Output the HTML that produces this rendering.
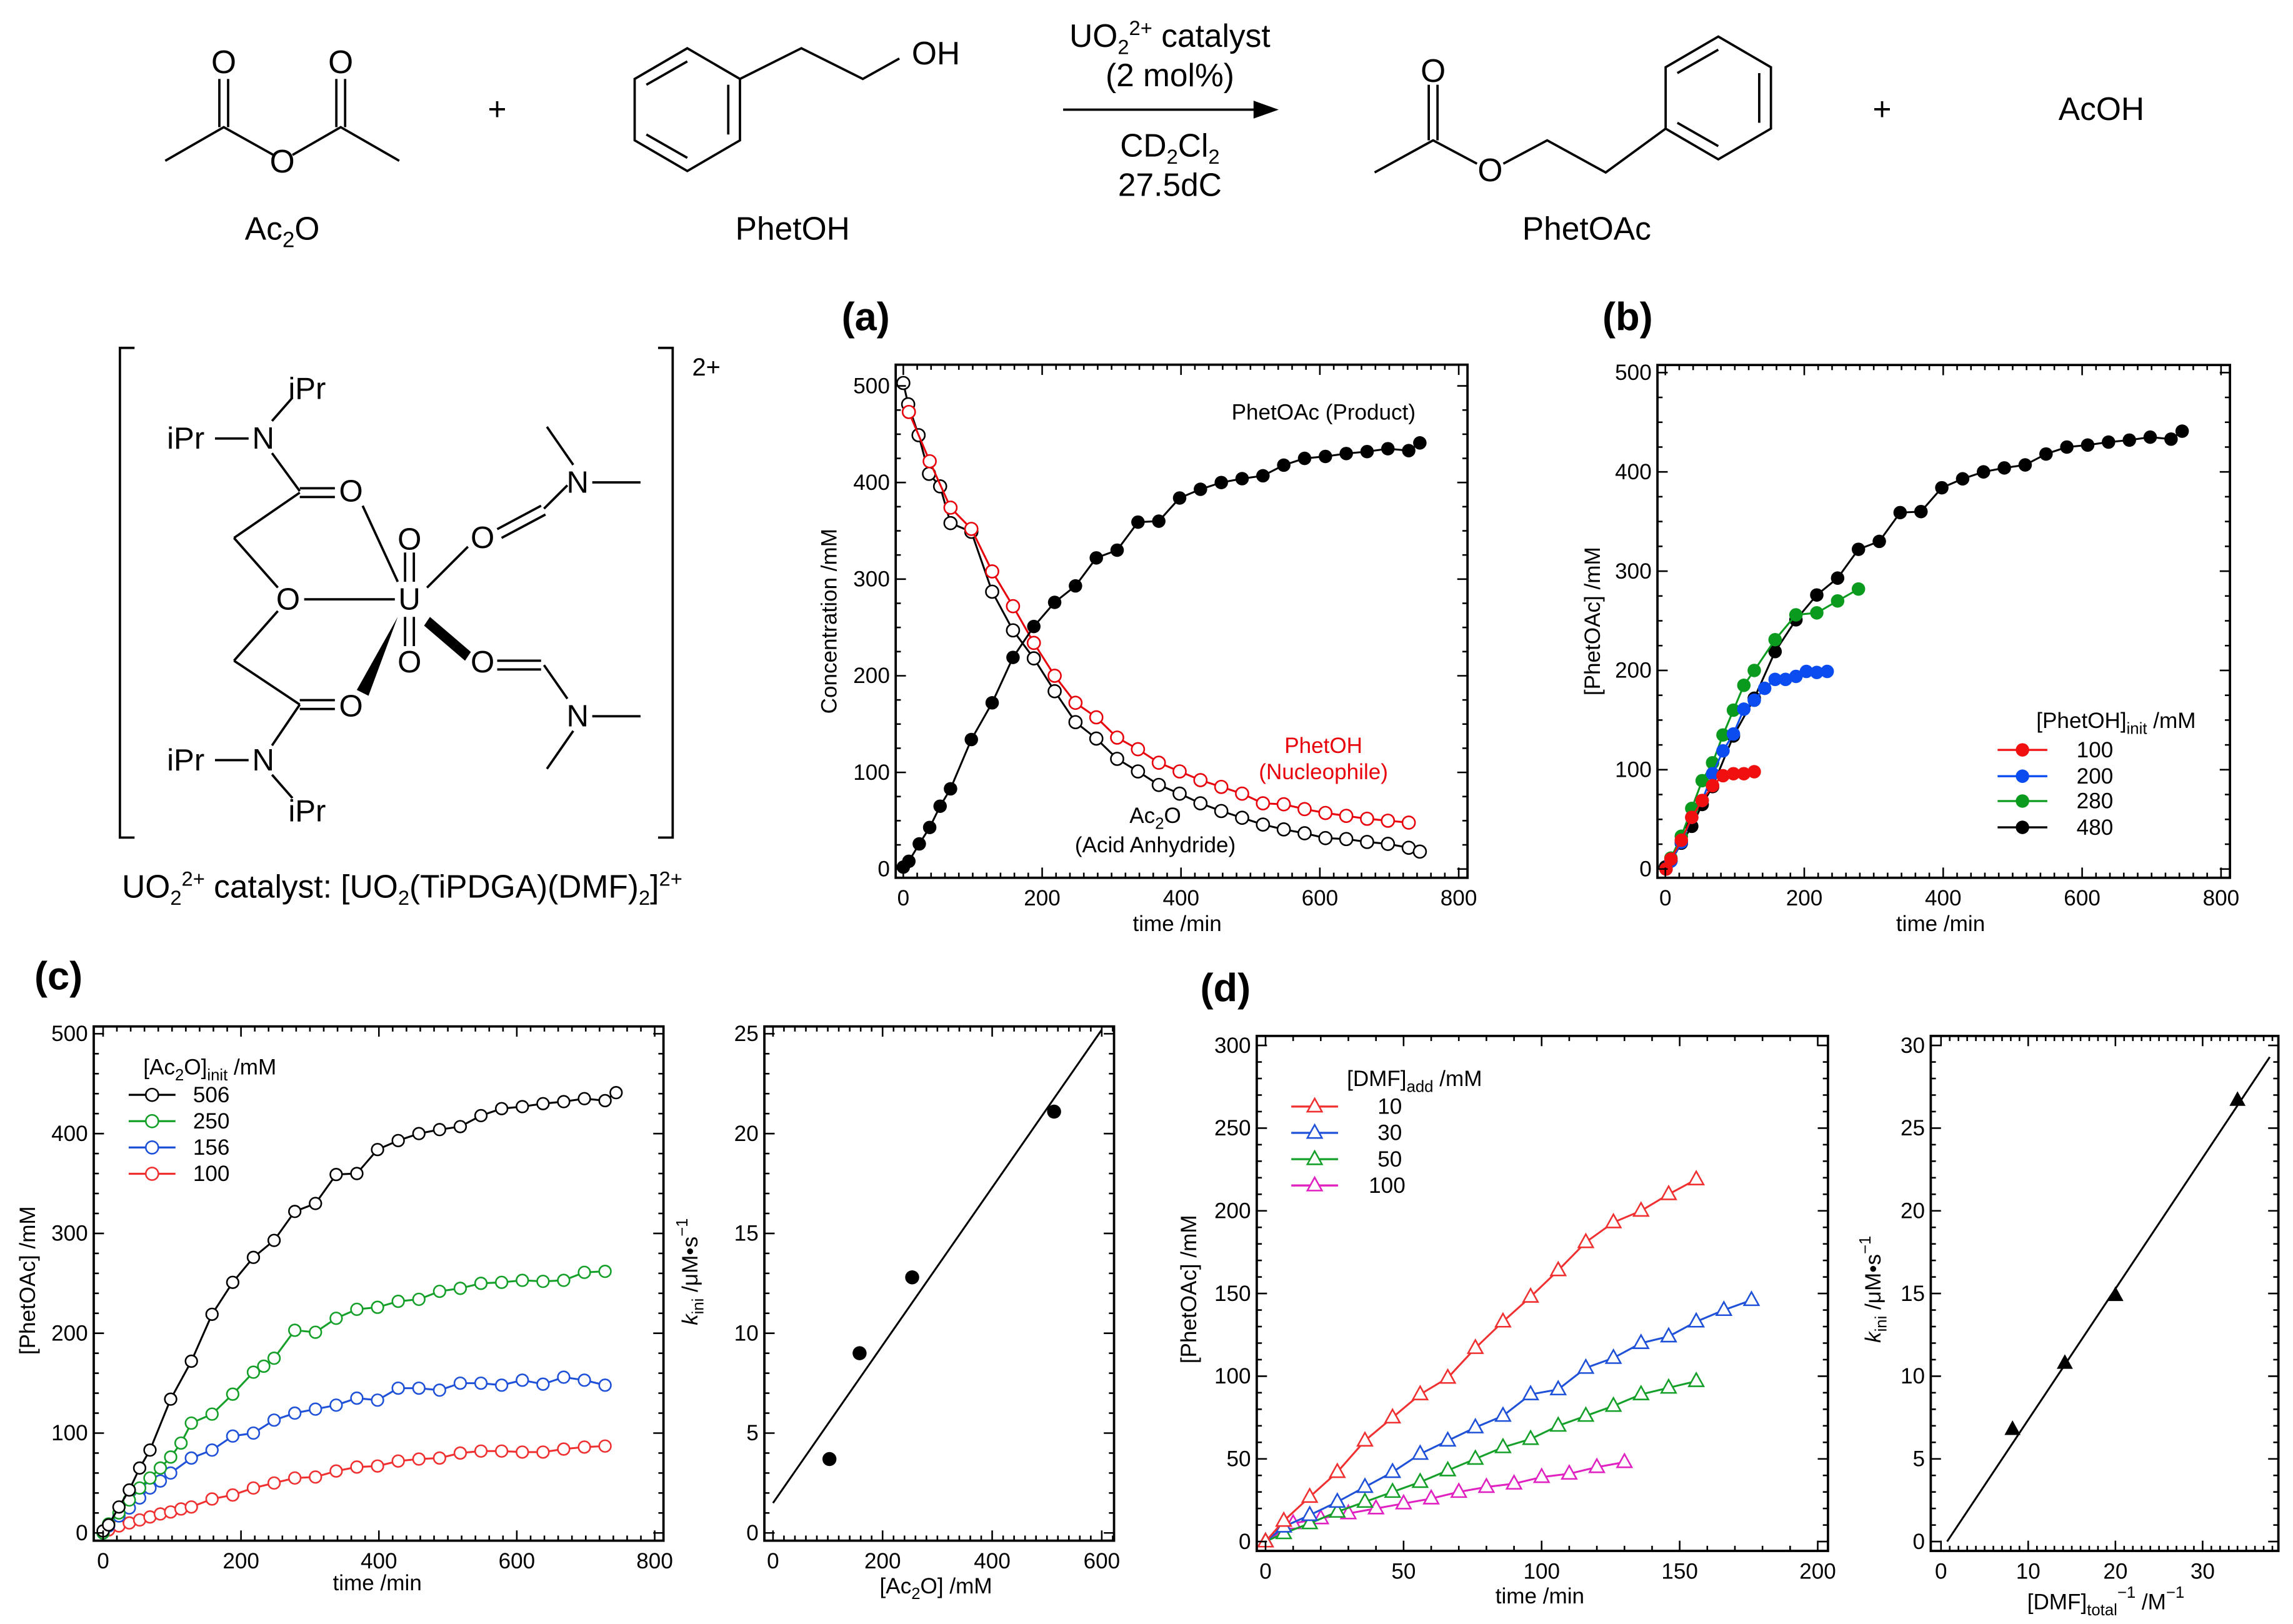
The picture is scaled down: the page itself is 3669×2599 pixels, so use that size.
<!DOCTYPE html>
<html><head><meta charset="utf-8"><title>Uranyl catalysed acetylation kinetics</title>
<style>
html,body{margin:0;padding:0;background:#fff;}
svg{display:block;font-family:"Liberation Sans",Arial,sans-serif;}
</style></head>
<body>
<svg id="fig" xmlns="http://www.w3.org/2000/svg" width="3669" height="2599" viewBox="0 0 1568 1111" preserveAspectRatio="none">
<rect x="0" y="0" width="1568" height="1111" fill="#fff"/>
<!-- Reaction scheme -->
<g stroke="#000" stroke-width="1.6" fill="none">
  <polyline points="113,110 153,87 187,106"/>
  <polyline points="200,106 233,87 273,110"/>
  <line x1="150" y1="87" x2="150" y2="54"/><line x1="156" y1="87" x2="156" y2="54"/>
  <line x1="230" y1="87" x2="230" y2="54"/><line x1="236" y1="87" x2="236" y2="54"/>
  <polygon points="470,33 506,54 506,96 470,117 434,96 434,54"/>
  <line x1="442" y1="58" x2="470" y2="42"/><line x1="498" y1="92" x2="498" y2="58"/><line x1="442" y1="92" x2="470" y2="108"/>
  <polyline points="506,54 548,33 590,54 615,40"/>
  <line x1="727" y1="75" x2="862" y2="75"/>
  <polygon points="872,75 858,70 858,80" fill="#000"/>
  <polyline points="940,118 980,96 1010,112"/>
  <line x1="977" y1="96" x2="977" y2="58"/><line x1="983" y1="96" x2="983" y2="58"/>
  <polyline points="1028,112 1058,96 1098,118 1139,88"/>
  <polygon points="1175,25 1211,46 1211,88 1175,109 1139,88 1139,46"/>
  <line x1="1147" y1="50" x2="1175" y2="34"/><line x1="1203" y1="84" x2="1203" y2="50"/><line x1="1147" y1="84" x2="1175" y2="100"/>
</g>
<g font-size="22" fill="#000">
  <text x="153" y="50" text-anchor="middle">O</text>
  <text x="233" y="50" text-anchor="middle">O</text>
  <text x="193" y="118" text-anchor="middle">O</text>
  <text x="193" y="164" text-anchor="middle">Ac<tspan font-size="15" dy="5">2</tspan><tspan dy="-5">O</tspan></text>
  <text x="340" y="82" text-anchor="middle">+</text>
  <text x="640" y="44" text-anchor="middle">OH</text>
  <text x="542" y="164" text-anchor="middle">PhetOH</text>
  <text x="800" y="32" text-anchor="middle">UO<tspan font-size="14" dy="5">2</tspan><tspan font-size="14" dy="-13">2+</tspan><tspan dy="8"> catalyst</tspan></text>
  <text x="800" y="59" text-anchor="middle">(2 mol%)</text>
  <text x="800" y="107" text-anchor="middle">CD<tspan font-size="14" dy="5">2</tspan><tspan dy="-5">Cl</tspan><tspan font-size="14" dy="5">2</tspan></text>
  <text x="800" y="134" text-anchor="middle">27.5dC</text>
  <text x="980" y="56" text-anchor="middle">O</text>
  <text x="1019" y="124" text-anchor="middle">O</text>
  <text x="1085" y="164" text-anchor="middle">PhetOAc</text>
  <text x="1287" y="82" text-anchor="middle">+</text>
  <text x="1437" y="82" text-anchor="middle">AcOH</text>
</g>
<!-- Catalyst structure -->
<g stroke="#000" stroke-width="1.6" fill="none">
  <polyline points="92,238 82,238 82,573 92,573"/>
  <polyline points="450,238 460,238 460,573 450,573"/>
  <line x1="147" y1="300" x2="170" y2="300"/>
  <line x1="186" y1="288" x2="200" y2="272"/>
  <line x1="186" y1="310" x2="205" y2="336"/>
  <line x1="205" y1="334" x2="229" y2="334"/><line x1="205" y1="340" x2="229" y2="340"/>
  <line x1="205" y1="337" x2="160" y2="368"/>
  <line x1="160" y1="368" x2="190" y2="402"/>
  <line x1="208" y1="410" x2="270" y2="410"/>
  <line x1="248" y1="346" x2="272" y2="398"/>
  <line x1="190" y1="418" x2="160" y2="452"/>
  <line x1="160" y1="452" x2="205" y2="482"/>
  <line x1="205" y1="479" x2="229" y2="479"/><line x1="205" y1="485" x2="229" y2="485"/>
  <line x1="205" y1="482" x2="186" y2="510"/>
  <line x1="147" y1="520" x2="170" y2="520"/>
  <line x1="186" y1="530" x2="200" y2="546"/>
  <line x1="277" y1="378" x2="277" y2="398"/><line x1="283" y1="378" x2="283" y2="398"/>
  <line x1="277" y1="422" x2="277" y2="442"/><line x1="283" y1="422" x2="283" y2="442"/>
  <line x1="292" y1="402" x2="320" y2="374"/>
  <line x1="340" y1="362" x2="370" y2="346"/><line x1="343" y1="368" x2="373" y2="352"/>
  <line x1="372" y1="348" x2="388" y2="332"/>
  <line x1="392" y1="318" x2="374" y2="292"/><line x1="405" y1="330" x2="438" y2="330"/>
  <line x1="340" y1="452" x2="370" y2="452"/><line x1="340" y1="458" x2="370" y2="458"/>
  <line x1="372" y1="455" x2="388" y2="478"/>
  <line x1="392" y1="500" x2="374" y2="526"/><line x1="405" y1="490" x2="438" y2="490"/>
</g>
<polygon points="294,422 322,446 318,452 290,428" fill="#000"/>
<polygon points="272,422 244,472 252,476" fill="#000"/>
<g font-size="21" fill="#000">
  <text x="210" y="273" text-anchor="middle">iPr</text>
  <text x="127" y="307" text-anchor="middle">iPr</text>
  <text x="180" y="307" text-anchor="middle">N</text>
  <text x="240" y="343" text-anchor="middle">O</text>
  <text x="197" y="417" text-anchor="middle">O</text>
  <text x="280" y="376" text-anchor="middle">O</text>
  <text x="280" y="417" text-anchor="middle">U</text>
  <text x="280" y="460" text-anchor="middle">O</text>
  <text x="330" y="375" text-anchor="middle">O</text>
  <text x="395" y="337" text-anchor="middle">N</text>
  <text x="330" y="460" text-anchor="middle">O</text>
  <text x="395" y="497" text-anchor="middle">N</text>
  <text x="240" y="490" text-anchor="middle">O</text>
  <text x="127" y="527" text-anchor="middle">iPr</text>
  <text x="180" y="527" text-anchor="middle">N</text>
  <text x="210" y="562" text-anchor="middle">iPr</text>
  <text x="483" y="257" text-anchor="middle" font-size="17">2+</text>
  <text x="275" y="614" text-anchor="middle" font-size="22">UO<tspan font-size="14" dy="5">2</tspan><tspan font-size="14" dy="-13">2+</tspan><tspan dy="8"> catalyst: [UO</tspan><tspan font-size="14" dy="5">2</tspan><tspan dy="-5">(TiPDGA)(DMF)</tspan><tspan font-size="14" dy="5">2</tspan><tspan dy="-5">]</tspan><tspan font-size="14" dy="-8">2+</tspan></text>
</g>
<g font-size="27" font-weight="bold" fill="#000">
  <text x="592" y="226" text-anchor="middle">(a)</text>
  <text x="1113" y="226" text-anchor="middle">(b)</text>
  <text x="40" y="677" text-anchor="middle">(c)</text>
  <text x="838" y="685" text-anchor="middle">(d)</text>
</g>
<g id="plots"></g>
</svg>
<script>
// ---- Data ----
const prodTime = [0,8,23,38,53,68,98,128,158,188,218,248,278,308,338,368,398,428,458,488,518,548,578,608,638,668,698,728,744];
const prodConc = [2,8,26,43,65,83,134,172,219,251,276,293,322,330,359,360,384,393,400,404,407,418,425,427,430,432,435,433,441];
const ac2oTime = [0,7,22,37,53,68,98,128,158,188,218,248,278,308,338,368,398,428,458,488,518,548,578,608,638,668,698,728,744];
const ac2oConc = [503,481,449,409,396,358,349,287,247,218,184,152,135,114,101,87,78,68,60,53,46,41,37,32,31,28,26,22,18];
const phetohTime = [8,38,68,98,128,158,188,218,248,278,308,338,368,398,428,458,488,518,548,578,608,638,668,698,728];
const phetohConc = [473,422,374,352,308,272,234,200,172,157,136,124,110,101,92,85,78,68,67,62,58,55,52,50,48];

const b100Time = [1,8,23,38,53,68,83,98,113,128];
const b100Conc = [0,10,29,52,69,84,94,96,96,98];
const b200Time = [1,8,23,38,53,68,83,98,113,128,143,158,173,188,203,218,233];
const b200Conc = [0,8,27,52,69,96,119,136,161,170,182,191,191,194,199,198,199];
const b280Time = [1,8,23,38,53,68,83,98,113,128,158,188,218,248,278];
const b280Conc = [0,11,33,61,89,107,135,160,185,200,231,256,258,270,282];

const c250Time = [0,8,23,38,53,68,83,98,113,128,158,188,218,233,248,278,308,338,368,398,428,458,488,518,548,578,608,638,668,698,728];
const c250Conc = [0,9,20,33,45,55,65,76,90,110,119,139,161,167,175,203,201,215,224,226,232,234,242,245,250,251,253,252,253,261,262];
const c156Time = [0,8,23,38,53,68,83,98,128,158,188,218,248,278,308,338,368,398,428,458,488,518,548,578,608,638,668,698,728];
const c156Conc = [0,7,17,25,35,45,52,60,75,83,97,100,113,120,124,128,135,133,145,145,143,150,150,148,153,149,156,153,148];
const c100Time = [8,23,38,53,68,83,98,113,128,158,188,218,248,278,308,338,368,398,428,458,488,518,548,578,608,638,668,698,728];
const c100Conc = [3,7,10,13,16,19,21,24,26,34,38,45,50,55,56,62,66,67,72,74,75,80,82,82,81,81,84,86,87];

const kAc2o = [103,158,254,513];
const kIniC = [3.7,9.0,12.8,21.1];
const fitCx = [0,600];
const fitCy = [1.5,25.2];

const d10Time = [0,6.6,16,26,36,46,56,66,76,86,96,106,116,126,136,146,156];
const d10Conc = [0,12.5,27,42,61,75,89,99,117,133,148,164,181,193,200,210,219];
const d30Time = [0,6.6,16,26,36,46,56,66,76,86,96,106,116,126,136,146,156,166,176];
const d30Conc = [0,9,16,24,33,42,53,61,69,76,89,92,105,111,120,124,133,140,146];
const d50Time = [0,6.6,16,26,36,46,56,66,76,86,96,106,116,126,136,146,156];
const d50Conc = [0,5,11,18,24,30,36,43,50,57,62,70,76,82,89,93,97];
const d100Time = [0,10,20,30,40,50,60,70,80,90,100,110,120,130];
const d100Conc = [0,11,14,17,20,23,26,30,33,35,39,41,45,48];

const invDmf = [8.2,14.2,20.0,34.0];
const kIniD = [6.8,10.8,14.9,26.7];
const fitDx = [0.7,37.7];
const fitDy = [0,29.3];

const tickA_X = [0,200,400,600,800];
const tickA_Y = [0,100,200,300,400,500];
const tickC2_X = [0,200,400,600];
const tickC2_Y = [0,5,10,15,20,25];
const tickD_X = [0,50,100,150,200];
const tickD_Y = [0,50,100,150,200,250,300];
const tickD2_X = [0,10,20,30];
const tickD2_Y = [0,5,10,15,20,25,30];

// ---- Helpers ----
const NS = 'http://www.w3.org/2000/svg';
const root = document.getElementById('plots');
function mk(tag, attrs, parent){
  const e = document.createElementNS(NS, tag);
  for (const k in attrs) e.setAttribute(k, attrs[k]);
  (parent || root).appendChild(e);
  return e;
}
function scale(v0, p0, v1, p1){ return v => p0 + (v - v0) * (p1 - p0) / (v1 - v0); }

function axes(g, P, xt, yt, xMinor, yMinor, xlabels, ylabels){
  const fr = mk('rect', {x:P.l, y:P.t, width:P.r-P.l, height:P.b-P.t, fill:'none', stroke:'#000', 'stroke-width':1.6}, g);
  
  
  const ML = 7, mL = 3.5;
  for (let v = P.xmin; v <= P.xmax + 1e-9; v += xMinor){
    const x = P.sx(v);
    if (x < P.l - 0.5 || x > P.r + 0.5) continue;
    const major = xt.some(t => Math.abs(t - v) < 1e-6);
    const L = major ? ML : mL;
    mk('line', {x1:x, y1:P.b, x2:x, y2:P.b-L, stroke:'#000','stroke-width':1.1}, g);
    mk('line', {x1:x, y1:P.t, x2:x, y2:P.t+L, stroke:'#000','stroke-width':1.1}, g);
  }
  for (let v = P.ymin; v <= P.ymax + 1e-9; v += yMinor){
    const y = P.sy(v);
    if (y < P.t - 0.5 || y > P.b + 0.5) continue;
    const major = yt.some(t => Math.abs(t - v) < 1e-6);
    const L = major ? ML : mL;
    mk('line', {x1:P.l, y1:y, x2:P.l+L, y2:y, stroke:'#000','stroke-width':1.1}, g);
    mk('line', {x1:P.r, y1:y, x2:P.r-L, y2:y, stroke:'#000','stroke-width':1.1}, g);
  }
  if (xlabels) xt.forEach(v => {
    const t = mk('text', {x:P.sx(v), y:P.b+19, 'text-anchor':'middle', 'font-size':15}, g);
    t.textContent = v;
    
    
  });
  if (ylabels) yt.forEach(v => {
    const t = mk('text', {x:P.l-4, y:P.sy(v)+5, 'text-anchor':'end', 'font-size':15}, g);
    t.textContent = v;
    
    
  });
}

function series(g, P, xs, ys, color, marker, name, r){
  const sg = mk('g', {}, g);
  
  
  const pts = xs.map((x,i) => P.sx(x) + ',' + P.sy(ys[i])).join(' ');
  mk('polyline', {points:pts, fill:'none', stroke:color, 'stroke-width':1.3}, sg);
  xs.forEach((x,i) => drawMarker(sg, P.sx(x), P.sy(ys[i]), color, marker, r));
}
function drawMarker(g, cx, cy, color, marker, r){
  let m;
  if (marker === 'filled') m = mk('circle', {cx, cy, r:r||4.6, fill:color}, g);
  else if (marker === 'open') m = mk('circle', {cx, cy, r:r||4.3, fill:'#fff', stroke:color, 'stroke-width':1.1}, g);
  else if (marker === 'tri') m = mk('polygon', {points:`${cx},${cy-5.5} ${cx+5},${cy+3.5} ${cx-5},${cy+3.5}`, fill:'#fff', stroke:color, 'stroke-width':1.1}, g);
  else if (marker === 'trifill') m = mk('polygon', {points:`${cx},${cy-6} ${cx+5.5},${cy+4} ${cx-5.5},${cy+4}`, fill:color}, g);
  
  
}
function text(g, x, y, str, opts, name){
  const t = mk('text', Object.assign({x, y, 'font-size':15}, opts||{}), g);
  t.innerHTML = str;
  
  
  return t;
}
function legendEntry(g, x1, x2, y, color, marker, label, lx){
  const lg = mk('g', {}, g);
  
  
  mk('line', {x1, y1:y, x2, y2:y, stroke:color, 'stroke-width':1.4}, lg);
  drawMarker(lg, (x1+x2)/2, y, color, marker, marker==='open'?4.3:4.6);
  const t = mk('text', {x:lx, y:y+5, 'font-size':15}, lg);
  t.textContent = label;
}

// ---- Panel (a) ----
{
  const g = mk('g', {});  
  const P = {l:612.5, r:1003.5, t:249.5, b:600.5};
  P.sx = scale(0, 617.7, 800, 997.5); P.sy = scale(0, 594.5, 500, 264);
  P.xmin=0; P.xmax=800; P.ymin=0; P.ymax=520;
  series(g, P, ac2oTime, ac2oConc, '#000', 'open', 'series-ac2o');
  series(g, P, phetohTime, phetohConc, '#e8000b', 'open', 'series-phetoh');
  series(g, P, prodTime, prodConc, '#000', 'filled', 'series-phetoac');
  axes(g, P, tickA_X, tickA_Y, 20, 25, true, true);
  text(g, 968, 287, 'PhetOAc (Product)', {'text-anchor':'end','font-size':15}, 'annotation-product');
  text(g, 905, 515, 'PhetOH', {'text-anchor':'middle','fill':'#e8000b','font-size':15}, 'annotation-phetoh');
  text(g, 905, 533, '(Nucleophile)', {'text-anchor':'middle','fill':'#e8000b','font-size':15}, 'annotation-nucleophile');
  text(g, 790, 563, 'Ac<tspan font-size="11" dy="4">2</tspan><tspan dy="-4">O</tspan>', {'text-anchor':'middle','font-size':15}, 'annotation-ac2o');
  text(g, 790, 583, '(Acid Anhydride)', {'text-anchor':'middle','font-size':15}, 'annotation-anhydride');
  text(g, 805, 637, 'time /min', {'text-anchor':'middle','font-size':15}, 'x-axis-title');
  text(g, 0, 0, 'Concentration /mM', {'text-anchor':'middle','font-size':15,'transform':'translate(572,425) rotate(-90)'}, 'y-axis-title');
}
// ---- Panel (b) ----
{
  const g = mk('g', {});  
  const P = {l:1133.4, r:1524.9, t:249.7, b:600.5};
  P.sx = scale(0, 1138.8, 800, 1518.8); P.sy = scale(0, 594.5, 500, 254.9);
  P.xmin=0; P.xmax=800; P.ymin=0; P.ymax=500;
  series(g, P, prodTime, prodConc, '#000', 'filled', 'series-480');
  series(g, P, b280Time, b280Conc, '#0a9a1e', 'filled', 'series-280');
  series(g, P, b200Time, b200Conc, '#0a4cf0', 'filled', 'series-200');
  series(g, P, b100Time, b100Conc, '#f01010', 'filled', 'series-100');
  axes(g, P, tickA_X, tickA_Y, 20, 25, true, true);
  text(g, 1447, 498, '[PhetOH]<tspan font-size="11" dy="4">init</tspan><tspan dy="-4"> /mM</tspan>', {'text-anchor':'middle','font-size':15}, 'legend-title');
  legendEntry(g, 1366, 1400, 513, '#f01010', 'filled', '100', 1420);
  legendEntry(g, 1366, 1400, 531, '#0a4cf0', 'filled', '200', 1420);
  legendEntry(g, 1366, 1400, 548, '#0a9a1e', 'filled', '280', 1420);
  legendEntry(g, 1366, 1400, 566, '#000', 'filled', '480', 1420);
  text(g, 1327, 637, 'time /min', {'text-anchor':'middle','font-size':15}, 'x-axis-title');
  text(g, 0, 0, '[PhetOAc] /mM', {'text-anchor':'middle','font-size':15,'transform':'translate(1094,425) rotate(-90)'}, 'y-axis-title');
}
// ---- Panel (c) left ----
{
  const g = mk('g', {});  
  const P = {l:64.1, r:453.7, t:702.2, b:1054};
  P.sx = scale(0, 70.5, 800, 447.7); P.sy = scale(0, 1048.7, 500, 707.2);
  P.xmin=0; P.xmax=800; P.ymin=0; P.ymax=500;
  series(g, P, c100Time, c100Conc, '#f03030', 'open', 'series-100', 4);
  series(g, P, c156Time, c156Conc, '#1e50d8', 'open', 'series-156', 4);
  series(g, P, c250Time, c250Conc, '#14a028', 'open', 'series-250', 4);
  series(g, P, prodTime, prodConc, '#000', 'open', 'series-506', 4);
  axes(g, P, tickA_X, tickA_Y, 20, 20, true, true);
  text(g, 98, 735, '[Ac<tspan font-size="11" dy="4">2</tspan><tspan dy="-4">O]</tspan><tspan font-size="11" dy="4">init</tspan><tspan dy="-4"> /mM</tspan>', {'font-size':15}, 'legend-title');
  legendEntry(g, 88, 120, 749, '#000', 'open', '506', 132);
  legendEntry(g, 88, 120, 767, '#14a028', 'open', '250', 132);
  legendEntry(g, 88, 120, 785, '#1e50d8', 'open', '156', 132);
  legendEntry(g, 88, 120, 803, '#f03030', 'open', '100', 132);
  text(g, 258, 1088, 'time /min', {'text-anchor':'middle','font-size':15}, 'x-axis-title');
  text(g, 0, 0, '[PhetOAc] /mM', {'text-anchor':'middle','font-size':15,'transform':'translate(24,876) rotate(-90)'}, 'y-axis-title');
}
// ---- Panel (c) right ----
{
  const g = mk('g', {});  
  const P = {l:522.7, r:761.8, t:702.2, b:1054};
  P.sx = scale(0, 528.6, 600, 753.4); P.sy = scale(0, 1048.7, 25, 707.2);
  P.xmin=0; P.xmax=620; P.ymin=0; P.ymax=25;
  const fl = mk('line', {x1:P.sx(fitCx[0]), y1:P.sy(fitCy[0]), x2:P.sx(fitCx[1]), y2:P.sy(fitCy[1]), stroke:'#000','stroke-width':1.3}, g);
  
  
  kAc2o.forEach((x,i) => drawMarker(g, P.sx(x), P.sy(kIniC[i]), '#000', 'filled', 4.8));
  axes(g, P, tickC2_X, tickC2_Y, 20, 1, true, true);
  text(g, 640, 1090, '[Ac<tspan font-size="11" dy="4">2</tspan><tspan dy="-4">O] /mM</tspan>', {'text-anchor':'middle','font-size':15}, 'x-axis-title');
  text(g, 0, 0, '<tspan font-style="italic">k</tspan><tspan font-size="11" dy="4">ini</tspan><tspan dy="-4"> /μM•s</tspan><tspan font-size="11" dy="-7">−1</tspan>', {'text-anchor':'middle','font-size':15,'transform':'translate(477,870) rotate(-90)'}, 'y-axis-title');
}
// ---- Panel (d) left ----
{
  const g = mk('g', {});  
  const P = {l:859.4, r:1250, t:708.7, b:1061};
  P.sx = scale(0, 865.4, 200, 1243); P.sy = scale(0, 1054.6, 300, 715.2);
  P.xmin=0; P.xmax=200; P.ymin=0; P.ymax=300;
  series(g, P, d100Time, d100Conc, '#e020c0', 'tri', 'series-100');
  series(g, P, d50Time, d50Conc, '#14a028', 'tri', 'series-50');
  series(g, P, d30Time, d30Conc, '#1e50d8', 'tri', 'series-30');
  series(g, P, d10Time, d10Conc, '#f03030', 'tri', 'series-10');
  axes(g, P, tickD_X, tickD_Y, 10, 10, true, true);
  text(g, 921, 743, '[DMF]<tspan font-size="11" dy="4">add</tspan><tspan dy="-4"> /mM</tspan>', {'font-size':15}, 'legend-title');
  legendEntry(g, 883, 915, 757, '#f03030', 'tri', '10', 942);
  legendEntry(g, 883, 915, 775, '#1e50d8', 'tri', '30', 942);
  legendEntry(g, 883, 915, 793, '#14a028', 'tri', '50', 942);
  legendEntry(g, 883, 915, 811, '#e020c0', 'tri', '100', 936);
  text(g, 1053, 1097, 'time /min', {'text-anchor':'middle','font-size':15}, 'x-axis-title');
  text(g, 0, 0, '[PhetOAc] /mM', {'text-anchor':'middle','font-size':15,'transform':'translate(818,882) rotate(-90)'}, 'y-axis-title');
}
// ---- Panel (d) right ----
{
  const g = mk('g', {});  
  const P = {l:1320.3, r:1558, t:708.7, b:1061};
  P.sx = scale(0, 1327.3, 30, 1506.2); P.sy = scale(0, 1054.6, 30, 715.2);
  P.xmin=0; P.xmax=40; P.ymin=0; P.ymax=30;
  const fl = mk('line', {x1:P.sx(fitDx[0]), y1:P.sy(fitDy[0]), x2:P.sx(fitDx[1]), y2:P.sy(fitDy[1]), stroke:'#000','stroke-width':1.3}, g);
  
  
  invDmf.forEach((x,i) => drawMarker(g, P.sx(x), P.sy(kIniD[i]), '#000', 'trifill'));
  axes(g, P, tickD2_X, tickD2_Y, 1, 1, true, true);
  text(g, 1440, 1101, '[DMF]<tspan font-size="11" dy="4">total</tspan><tspan font-size="11" dy="-12">−1</tspan><tspan dy="8"> /M</tspan><tspan font-size="11" dy="-8">−1</tspan>', {'text-anchor':'middle','font-size':15}, 'x-axis-title');
  text(g, 0, 0, '<tspan font-style="italic">k</tspan><tspan font-size="11" dy="4">ini</tspan><tspan dy="-4"> /μM•s</tspan><tspan font-size="11" dy="-7">−1</tspan>', {'text-anchor':'middle','font-size':15,'transform':'translate(1286,882) rotate(-90)'}, 'y-axis-title');
}
</script>
</body></html>
